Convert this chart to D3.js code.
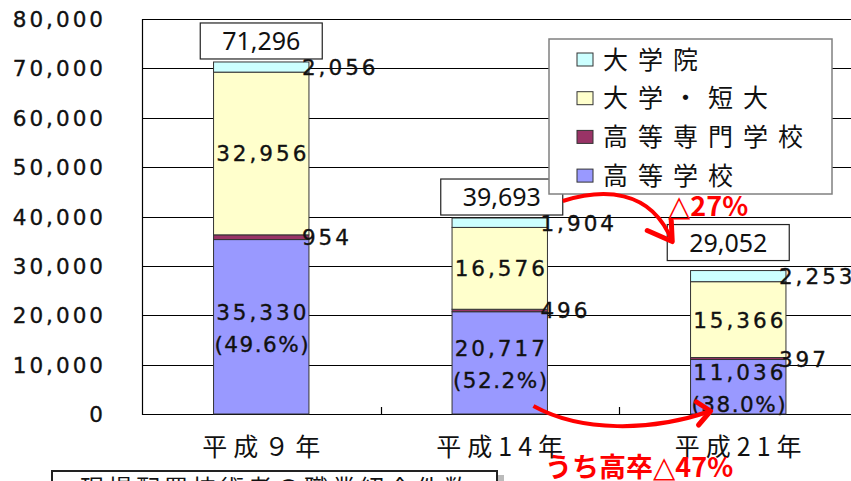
<!DOCTYPE html>
<meta charset='utf-8'>
<style>
body { margin: 0; background: #fff; }
svg { display: block; }
.num { font-family: 'DejaVu Sans', 'Liberation Sans', sans-serif; font-size: 21.5px; fill: #111; stroke: #111; stroke-width: 0.35px; letter-spacing: 3px; }
.jp { font-family: 'Noto Sans CJK JP', sans-serif; fill: #111; }
.red { font-family: 'Noto Sans CJK JP', sans-serif; font-weight: bold; fill: #ff0000; }
.tri { font-family: 'DejaVu Sans', sans-serif; font-weight: bold; }
</style>
<svg width='851' height='481'></svg>
<script src='https://cdnjs.cloudflare.com/ajax/libs/d3/7.8.5/d3.min.js'></script>
<script>

// data
const years = ['平成９年', '平成14年', '平成21年'];
const seriesNames = ['高等学校', '高等専門学校', '大学・短大', '大学院'];
const highSchool = [35330, 20717, 11036];
const kosen = [954, 496, 397];
const univ = [32956, 16576, 15366];
const grad = [2056, 1904, 2253];
const totals = [71296, 39693, 29052];
const yTicks = [0, 10000, 20000, 30000, 40000, 50000, 60000, 70000, 80000];
const changeTop = ['△', '27%'];
const changeBottom = ['うち高卒', '△', '47%'];
const footNote = '現場配置技術者の職業紹介件数';

const colors = { '高等学校': '#9999ff', '高等専門学校': '#993366', '大学・短大': '#ffffcc', '大学院': '#ccffff' };

const svg = d3.select('svg');
const plot = { left: 142, top: 19, right: 857.5, bottom: 414 };

const rows = years.map((yr, i) => ({
    year: yr,
    '高等学校': highSchool[i],
    '高等専門学校': kosen[i],
    '大学・短大': univ[i],
    '大学院': grad[i]
}));
const stacked = d3.stack().keys(seriesNames)(rows);

const x = d3.scaleBand().domain(years).range([plot.left, plot.right])
    .paddingInner(0.6).paddingOuter(0.3);
const y = d3.scaleLinear().domain([0, 80000]).range([plot.bottom, plot.top]);
const bw = x.bandwidth();
const fmt = d3.format(',');
const ls = 3;

// grid lines
svg.append('g')
    .selectAll('line').data(yTicks).join('line')
    .attr('x1', plot.left).attr('x2', 851)
    .attr('y1', d => Math.round(y(d)) + 0.5).attr('y2', d => Math.round(y(d)) + 0.5)
    .attr('stroke', '#000').attr('stroke-width', 1.2);

// left frame
svg.append('line')
    .attr('x1', plot.left + 0.5).attr('x2', plot.left + 0.5)
    .attr('y1', plot.top).attr('y2', plot.bottom + 1)
    .attr('stroke', '#000').attr('stroke-width', 1.2);

// category ticks
const step = x.step();
svg.append('g')
    .selectAll('line').data([1, 2]).join('line')
    .attr('x1', d => Math.round(plot.left + d * step) + 0.5)
    .attr('x2', d => Math.round(plot.left + d * step) + 0.5)
    .attr('y1', plot.bottom - 7).attr('y2', plot.bottom)
    .attr('stroke', '#000').attr('stroke-width', 1.2);

// y tick labels
svg.append('g')
    .selectAll('text').data(yTicks).join('text')
    .attr('class', 'num')
    .attr('x', 103 + ls).attr('y', d => y(d) + 8)
    .attr('text-anchor', 'end')
    .text(d => fmt(d));

// bars
svg.append('g')
    .selectAll('g').data(stacked).join('g')
    .attr('fill', d => colors[d.key])
    .selectAll('rect').data(d => d).join('rect')
    .attr('x', d => x(d.data.year))
    .attr('y', d => y(d[1]))
    .attr('width', bw)
    .attr('height', d => y(d[0]) - y(d[1]))
    .attr('stroke', '#333').attr('stroke-width', 1);

// labels inside big segments
const univLayer = stacked[2];
svg.append('g')
    .selectAll('text').data(univLayer).join('text')
    .attr('class', 'num')
    .attr('x', d => x(d.data.year) + bw / 2 + ls / 2)
    .attr('y', d => (y(d[0]) + y(d[1])) / 2 + 8)
    .attr('text-anchor', 'middle')
    .text(d => fmt(d[1] - d[0]));

const hsLayer = stacked[0];
const hsLabels = svg.append('g');
hsLabels.selectAll('text.v').data(hsLayer).join('text')
    .attr('class', 'num v')
    .attr('x', d => x(d.data.year) + bw / 2 + ls / 2)
    .attr('y', d => (y(d[0]) + y(d[1])) / 2 - 7)
    .attr('text-anchor', 'middle')
    .text(d => fmt(d[1] - d[0]));
hsLabels.selectAll('text.p').data(hsLayer).join('text')
    .attr('class', 'num p')
    .attr('x', d => x(d.data.year) + bw / 2 + 1)
    .attr('y', d => (y(d[0]) + y(d[1])) / 2 + 25)
    .attr('text-anchor', 'middle')
    .style('letter-spacing', '1.5px')
    .text((d, i) => '(' + (highSchool[i] / totals[i] * 100).toFixed(1) + '%)');

// labels for small segments, to the right of bar
[stacked[1], stacked[3]].forEach(layer => {
    svg.append('g')
        .selectAll('text').data(layer).join('text')
        .attr('class', 'num')
        .attr('x', d => x(d.data.year) + bw - 7)
        .attr('y', d => (y(d[0]) + y(d[1])) / 2 + 8)
        .text(d => fmt(d[1] - d[0]));
});

// total boxes
const boxShift = [0, 2, -10];
const boxGap = [3, 3, 10];
const boxes = svg.append('g')
    .selectAll('g').data(totals).join('g')
    .attr('transform', (d, i) => `translate(${x(years[i]) + bw / 2 + boxShift[i]},${y(d) - boxGap[i] - 36})`);
boxes.append('rect')
    .attr('x', -61).attr('y', 0).attr('width', 122).attr('height', 36)
    .attr('fill', '#fff').attr('stroke', '#222').attr('stroke-width', 1.2);
boxes.append('text')
    .attr('y', 27).attr('text-anchor', 'middle')
    .style('font-family', "'Noto Sans', 'Open Sans', sans-serif")
    .style('font-size', '25px').attr('fill', '#111')
    .text(d => fmt(d));

// legend
const legend = svg.append('g').attr('transform', 'translate(549,39)');
legend.append('rect')
    .attr('width', 283).attr('height', 155)
    .attr('fill', '#fff').attr('stroke', '#808080').attr('stroke-width', 1.5);
const items = legend.selectAll('g').data(seriesNames.slice().reverse()).join('g')
    .attr('transform', (d, i) => `translate(0,${20 + i * 38.7})`);
items.append('rect')
    .attr('x', 28).attr('y', -6).attr('width', 16).attr('height', 13)
    .attr('fill', d => colors[d]).attr('stroke', '#333').attr('stroke-width', 1);
items.append('text')
    .attr('class', 'jp')
    .attr('x', 54).attr('y', 9.5)
    .style('font-size', '25px').style('letter-spacing', '10px')
    .text(d => d);

// x labels
svg.append('g')
    .selectAll('text').data(years).join('text')
    .attr('class', 'jp')
    .attr('x', d => x(d) + bw / 2 + 3)
    .attr('y', 456)
    .attr('text-anchor', 'middle')
    .style('font-size', '25px').style('letter-spacing', '6px')
    .text(d => d);

// change annotations
const box2Right = x(years[1]) + bw / 2 + boxShift[1] + 61;
const box2Mid = y(totals[1]) - boxGap[1] - 18;
const box3Left = x(years[2]) + bw / 2 + boxShift[2] - 61;
const box3Top = y(totals[2]) - boxGap[2] - 36;
const tipA = [box3Left + 5, box3Top + 17];
svg.append('path')
    .attr('d', `M${box2Right},${box2Mid + 4} C${box2Right + 38},${box2Mid - 8} ${box2Right + 88},${box2Mid - 10} ${tipA[0]},${tipA[1]}`)
    .attr('fill', 'none').attr('stroke', '#ff0000').attr('stroke-width', 4);
svg.append('path')
    .attr('d', `M${tipA[0] - 25},${tipA[1] - 11} L${tipA[0]},${tipA[1]} L${tipA[0] - 1},${tipA[1] - 21}`)
    .attr('fill', 'none').attr('stroke', '#ff0000').attr('stroke-width', 5)
    .attr('stroke-linecap', 'round').attr('stroke-linejoin', 'round');

const startB = [x(years[1]) + bw - 14, y(0) - 8];
const tipB = [x(years[2]) + 20, y(0) - 3];
svg.append('path')
    .attr('d', `M${startB[0]},${startB[1]} C${startB[0] + 47},${startB[1] + 26} ${tipB[0] - 60},${startB[1] + 26} ${tipB[0]},${tipB[1]}`)
    .attr('fill', 'none').attr('stroke', '#ff0000').attr('stroke-width', 4);
svg.append('path')
    .attr('d', `M${tipB[0] - 14},${tipB[1] - 9} L${tipB[0]},${tipB[1]} L${tipB[0] - 12},${tipB[1] + 14}`)
    .attr('fill', 'none').attr('stroke', '#ff0000').attr('stroke-width', 5)
    .attr('stroke-linecap', 'round').attr('stroke-linejoin', 'round');

function redLabel(parts, px, py) {
    const t = svg.append('text').attr('class', 'red')
        .attr('x', px).attr('y', py)
        .style('font-size', '27px');
    parts.forEach(p => {
        t.append('tspan')
            .attr('class', p === '△' ? 'tri' : null)
            .style('font-size', p === '△' ? '29px' : null)
            .text(p);
    });
}
redLabel(changeTop, 668, 216);
redLabel(changeBottom, 545, 477);

// footnote box (cut off at bottom)
svg.append('rect')
    .attr('x', 56).attr('y', 475).attr('width', 448).attr('height', 40)
    .attr('fill', '#bbb');
svg.append('rect')
    .attr('x', 52).attr('y', 471).attr('width', 445).attr('height', 40)
    .attr('fill', '#fff').attr('stroke', '#222').attr('stroke-width', 2);
svg.append('text')
    .attr('class', 'jp')
    .attr('x', 80).attr('y', 497)
    .style('font-size', '24px').style('letter-spacing', '4px')
    .attr('fill', '#993300')
    .text(footNote);

</script>
